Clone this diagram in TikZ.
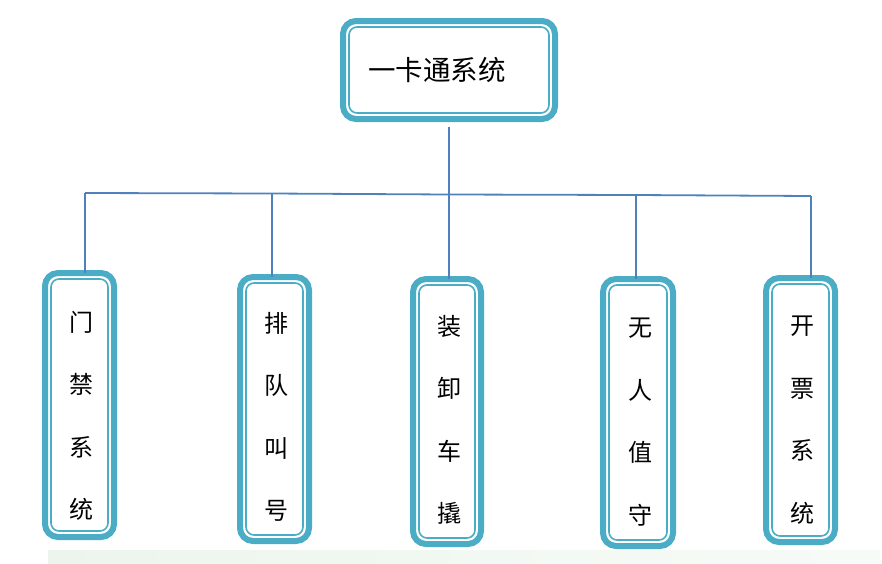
\documentclass[tikz,border=0pt]{standalone}
\usepackage{fontspec}
\newfontfamily\cjk{Noto Sans CJK SC}
\definecolor{boxteal}{RGB}{75,172,198}
\definecolor{lineblue}{RGB}{79,129,189}
\definecolor{bandgreen}{RGB}{236,245,237}
\tikzset{
  sysbox/.style={draw=boxteal, line width=6pt, rounded corners=13pt, fill=white, inner sep=0pt, outer sep=0pt},
  innerline/.style={draw=boxteal, line width=1.6pt, rounded corners=8pt},
  vtext/.style={font=\cjk\fontsize{24}{62.5}\selectfont, align=center, inner sep=0pt},
  conn/.style={draw=lineblue, line width=1.8pt}
}
\begin{document}
\begin{tikzpicture}[x=1pt,y=-1pt]
\useasboundingbox (0,0) rectangle (882,563);
\fill[left color=bandgreen, right color=bandgreen!40!white] (48,550) rectangle (880,563);
% top box
\node[sysbox, minimum width=212pt, minimum height=98pt] (top) at (449,70) {};
\node[font=\cjk\fontsize{27.5}{30}\selectfont, inner sep=0pt] (toptext) at (437,70) {一卡通系统};
% bottom boxes
\node[sysbox, minimum width=69pt, minimum height=264pt] (b1) at (79.5,405) {};
\node[sysbox, minimum width=69pt, minimum height=264pt] (b2) at (274.5,409) {};
\node[sysbox, minimum width=68pt, minimum height=265pt] (b3) at (447,411.5) {};
\node[sysbox, minimum width=70pt, minimum height=267pt] (b4) at (638,412.5) {};
\node[sysbox, minimum width=69pt, minimum height=264pt] (b5) at (800.5,410) {};
\foreach \bx in {top,b1,b2,b3,b4,b5}{
  \draw[innerline] ([shift={(6pt,-6pt)}]\bx.north west) rectangle ([shift={(-6pt,6pt)}]\bx.south east);
}
\node[vtext] (t1) at (81,416) {门\\禁\\系\\统};
\node[vtext] (t2) at (276,417) {排\\队\\叫\\号};
\node[vtext] (t3) at (449,420) {装\\卸\\车\\撬};
\node[vtext] (t4) at (640,422) {无\\人\\值\\守};
\node[vtext] (t5) at (802,420) {开\\票\\系\\统};
% connectors
\coordinate (j1) at (85,193);
\coordinate (j2) at (272,193.5);
\coordinate (j3) at (449,194.5);
\coordinate (j4) at (636,195);
\coordinate (j5) at (811,196);
\draw[conn] ([yshift=-8pt]top.south) -- (j3);
\draw[conn] (j1) -- (j2) -- (j3) -- (j4) -- (j5);
\draw[conn] (j1) -- (j1 |- b1.north);
\draw[conn] (j2) -- (j2 |- b2.north);
\draw[conn] (j3) -- (j3 |- b3.north);
\draw[conn] (j4) -- (j4 |- b4.north);
\draw[conn] (j5) -- (j5 |- b5.north);
\end{tikzpicture}
\end{document}
